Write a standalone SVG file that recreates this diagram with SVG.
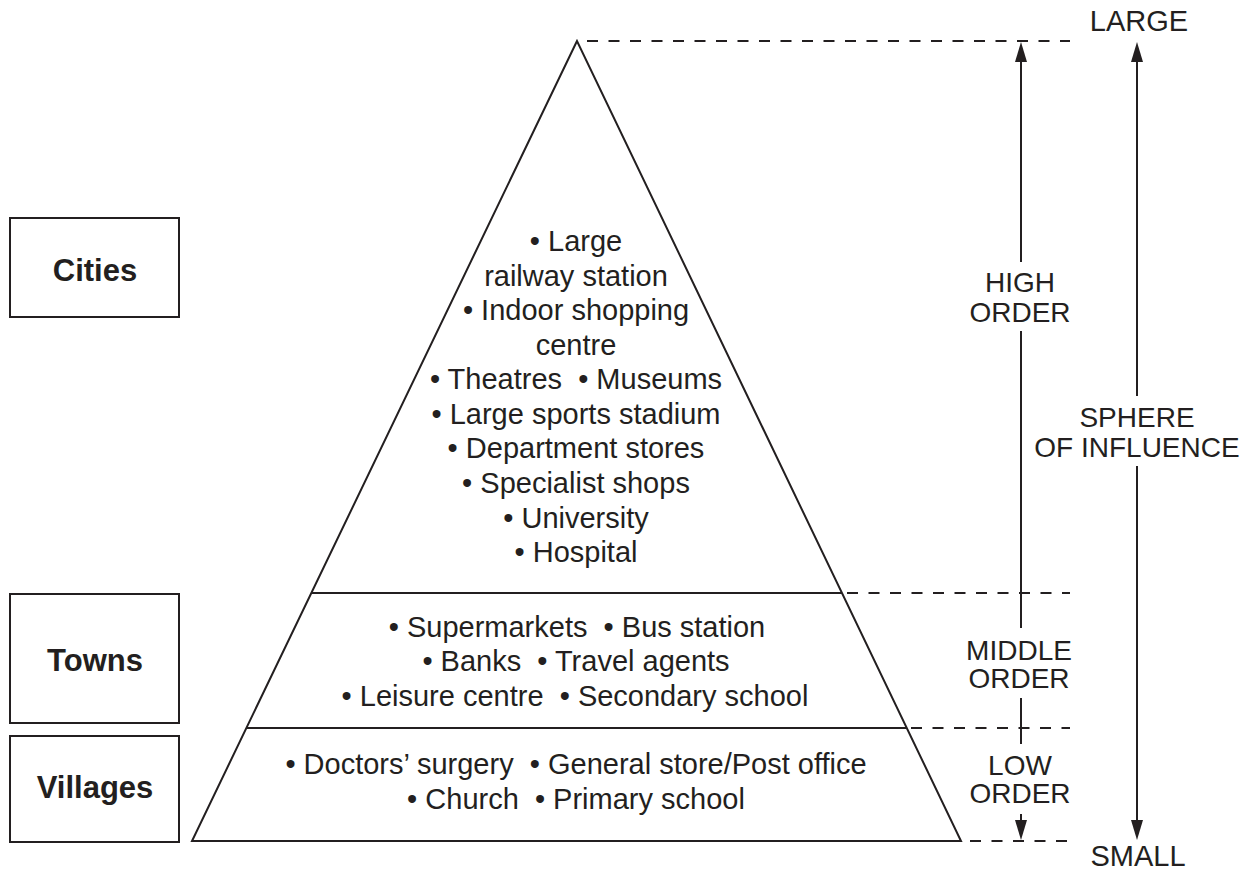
<svg xmlns="http://www.w3.org/2000/svg" width="1254" height="870" viewBox="0 0 1254 870">
<defs>
<style>
.ln{stroke:#231f20;stroke-width:2;fill:none}
.dash{stroke:#231f20;stroke-width:2;fill:none;stroke-dasharray:11 10.5}
.t{font-family:"Liberation Sans",Arial,sans-serif;font-size:29px;fill:#231f20;text-anchor:middle}
.s{font-family:"Liberation Sans",Arial,sans-serif;font-size:28px;fill:#231f20;text-anchor:middle}
.b{font-family:"Liberation Sans",Arial,sans-serif;font-size:31px;font-weight:bold;fill:#231f20;text-anchor:middle}
</style>
<marker id="ah" viewBox="0 0 20 12" refX="0" refY="6" markerWidth="20" markerHeight="12" markerUnits="userSpaceOnUse" orient="auto">
<path d="M0,0 L20,6 L0,12 z" fill="#231f20"/>
</marker>
</defs>
<rect width="1254" height="870" fill="#ffffff"/>

<g id="cities-box">
<rect class="ln" x="10" y="218" width="169" height="99"/>
<text class="b" x="95" y="281">Cities</text>
</g>
<g id="towns-box">
<rect class="ln" x="10" y="594" width="169" height="129"/>
<text class="b" x="95" y="671">Towns</text>
</g>
<g id="villages-box">
<rect class="ln" x="10" y="736" width="169" height="106"/>
<text class="b" x="95" y="798">Villages</text>
</g>

<g id="pyramid">
<path class="ln" d="M577,41 L192,841 L961,841 Z"/>
<line class="ln" x1="312" y1="593" x2="842" y2="593"/>
<line class="ln" x1="247" y1="728" x2="906" y2="728"/>
</g>

<g id="city-services">
<text class="t" x="576" y="251">• Large</text>
<text class="t" x="576" y="286">railway station</text>
<text class="t" x="576" y="320">• Indoor shopping</text>
<text class="t" x="576" y="355">centre</text>
<text class="t" x="576" y="389" xml:space="preserve">• Theatres  • Museums</text>
<text class="t" x="576" y="424">• Large sports stadium</text>
<text class="t" x="576" y="458">• Department stores</text>
<text class="t" x="576" y="493">• Specialist shops</text>
<text class="t" x="576" y="528">• University</text>
<text class="t" x="576" y="562">• Hospital</text>
</g>

<g id="town-services">
<text class="t" x="577" y="637" xml:space="preserve">• Supermarkets  • Bus station</text>
<text class="t" x="576" y="671" xml:space="preserve">• Banks  • Travel agents</text>
<text class="t" x="575" y="706" xml:space="preserve">• Leisure centre  • Secondary school</text>
</g>

<g id="village-services">
<text class="t" x="576" y="774" xml:space="preserve">• Doctors’ surgery  • General store/Post office</text>
<text class="t" x="576" y="809" xml:space="preserve">• Church  • Primary school</text>
</g>

<g id="connectors">
<line class="dash" x1="587" y1="41" x2="1070" y2="41"/>
<line class="dash" x1="847" y1="593" x2="1070" y2="593"/>
<line class="dash" x1="911" y1="728" x2="1070" y2="728"/>
<line class="dash" x1="970" y1="841" x2="1068" y2="841"/>
<line class="ln" x1="1021" y1="262" x2="1021" y2="62" marker-end="url(#ah)"/>
<line class="ln" x1="1021" y1="331" x2="1021" y2="628"/>
<line class="ln" x1="1021" y1="698" x2="1021" y2="744"/>
<line class="ln" x1="1021" y1="814" x2="1021" y2="820" marker-end="url(#ah)"/>
<line class="ln" x1="1137" y1="396" x2="1137" y2="62" marker-end="url(#ah)"/>
<line class="ln" x1="1137" y1="466" x2="1137" y2="820" marker-end="url(#ah)"/>
</g>

<g id="labels">
<text class="t" x="1139" y="31">LARGE</text>
<text class="t" x="1138" y="866">SMALL</text>
<text class="s" x="1020" y="292">HIGH</text>
<text class="s" x="1020" y="322">ORDER</text>
<text class="s" x="1137" y="427">SPHERE</text>
<text class="s" x="1137" y="457">OF INFLUENCE</text>
<text class="s" x="1019" y="660">MIDDLE</text>
<text class="s" x="1019" y="688">ORDER</text>
<text class="s" x="1020" y="775">LOW</text>
<text class="s" x="1020" y="803">ORDER</text>
</g>
</svg>
